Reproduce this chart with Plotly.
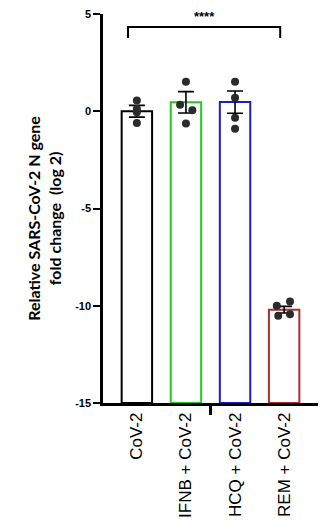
import plotly.graph_objects as go

# Groups and measurements (log2 fold change of SARS-CoV-2 N gene)
groups = ["CoV-2", "IFNB + CoV-2", "HCQ + CoV-2", "REM + CoV-2"]
bar_means = [0.0, 0.46, 0.47, -10.2]
bar_sem = [0.30, 0.55, 0.57, 0.17]
replicates = [
    [0.55, 0.12, -0.05, -0.60],
    [1.52, 0.34, 0.05, -0.63],
    [1.52, 0.69, -0.34, -0.90],
    [-10.0, -9.78, -10.52, -10.44],
]
outline_colors = ["#000000", "#22c922", "#1c1ccc", "#b02a2e"]
y_ticks = [5, 0, -5, -10, -15]
y_floor = -15
significance = "****"

# horizontal scatter of replicate dots inside each bar (category units)
dot_spread = [
    [0.0, 0.0, 0.0, 0.0],
    [0.0, -0.12, 0.13, 0.0],
    [0.0, 0.0, 0.0, 0.0],
    [-0.15, 0.12, -0.12, 0.12],
]

xs = list(range(len(groups)))
fig = go.Figure()

# bars rise from the bottom of the axis, as in a GraphPad column plot
fig.add_trace(go.Bar(
    x=xs, y=[m - y_floor for m in bar_means], base=y_floor, width=0.62,
    marker=dict(color="rgba(0,0,0,0)", line=dict(color=outline_colors, width=2)),
    error_y=dict(type="data", array=bar_sem, color="black", thickness=1.6, width=8),
    showlegend=False,
))

for i, vals in enumerate(replicates):
    fig.add_trace(go.Scatter(
        x=[i + d for d in dot_spread[i]], y=vals, mode="markers",
        marker=dict(color="#2b2b2b", size=8),
        showlegend=False, cliponaxis=False,
    ))

# significance bracket between first and last group
b_left, b_right = -0.18, 2.92
b_top, b_foot = 4.33, 3.77
fig.add_trace(go.Scatter(
    x=[b_left, b_left, b_right, b_right], y=[b_foot, b_top, b_top, b_foot],
    mode="lines", line=dict(color="black", width=2), showlegend=False,
    cliponaxis=False,
))
fig.add_annotation(x=(b_left + b_right) / 2, y=b_top, yshift=11, text=f"<b>{significance}</b>",
                   showarrow=False, font=dict(size=13, color="black", family="Liberation Sans"))

fig.add_annotation(
    xref="paper", yref="paper", x=-0.275, y=0.476, xanchor="center", yanchor="middle",
    text="<b>Relative SARS-CoV-2 N gene<br>fold change  (log 2)</b>",
    textangle=-90, showarrow=False,
    font=dict(size=16, color="black", family="Lato"),
)

fig.update_layout(
    width=327, height=530,
    margin=dict(l=103, r=9, t=14, b=127),
    plot_bgcolor="white", paper_bgcolor="white",
    xaxis=dict(
        range=[-0.69, 3.69], tickvals=xs, ticktext=groups, tickangle=-90,
        showline=True, linecolor="black", linewidth=2.5, ticks="",
        showgrid=False, zeroline=False, automargin=False,
        tickfont=dict(family="Liberation Sans", size=17, color="black"),
        minor=dict(tickvals=[1.5], ticks="outside", ticklen=9, tickwidth=2.5, tickcolor="black"),
    ),
    yaxis=dict(
        range=[-15, 5], tickvals=y_ticks, ticktext=[f"<b>{v}</b>" for v in y_ticks],
        showline=True, linecolor="black", linewidth=2.5,
        ticks="outside", ticklen=7, tickwidth=2.2, tickcolor="black",
        showgrid=False, zeroline=False, automargin=False,
        tickfont=dict(family="Liberation Sans", size=11, color="black"),
    ),
)

fig.write_html("out.html")
